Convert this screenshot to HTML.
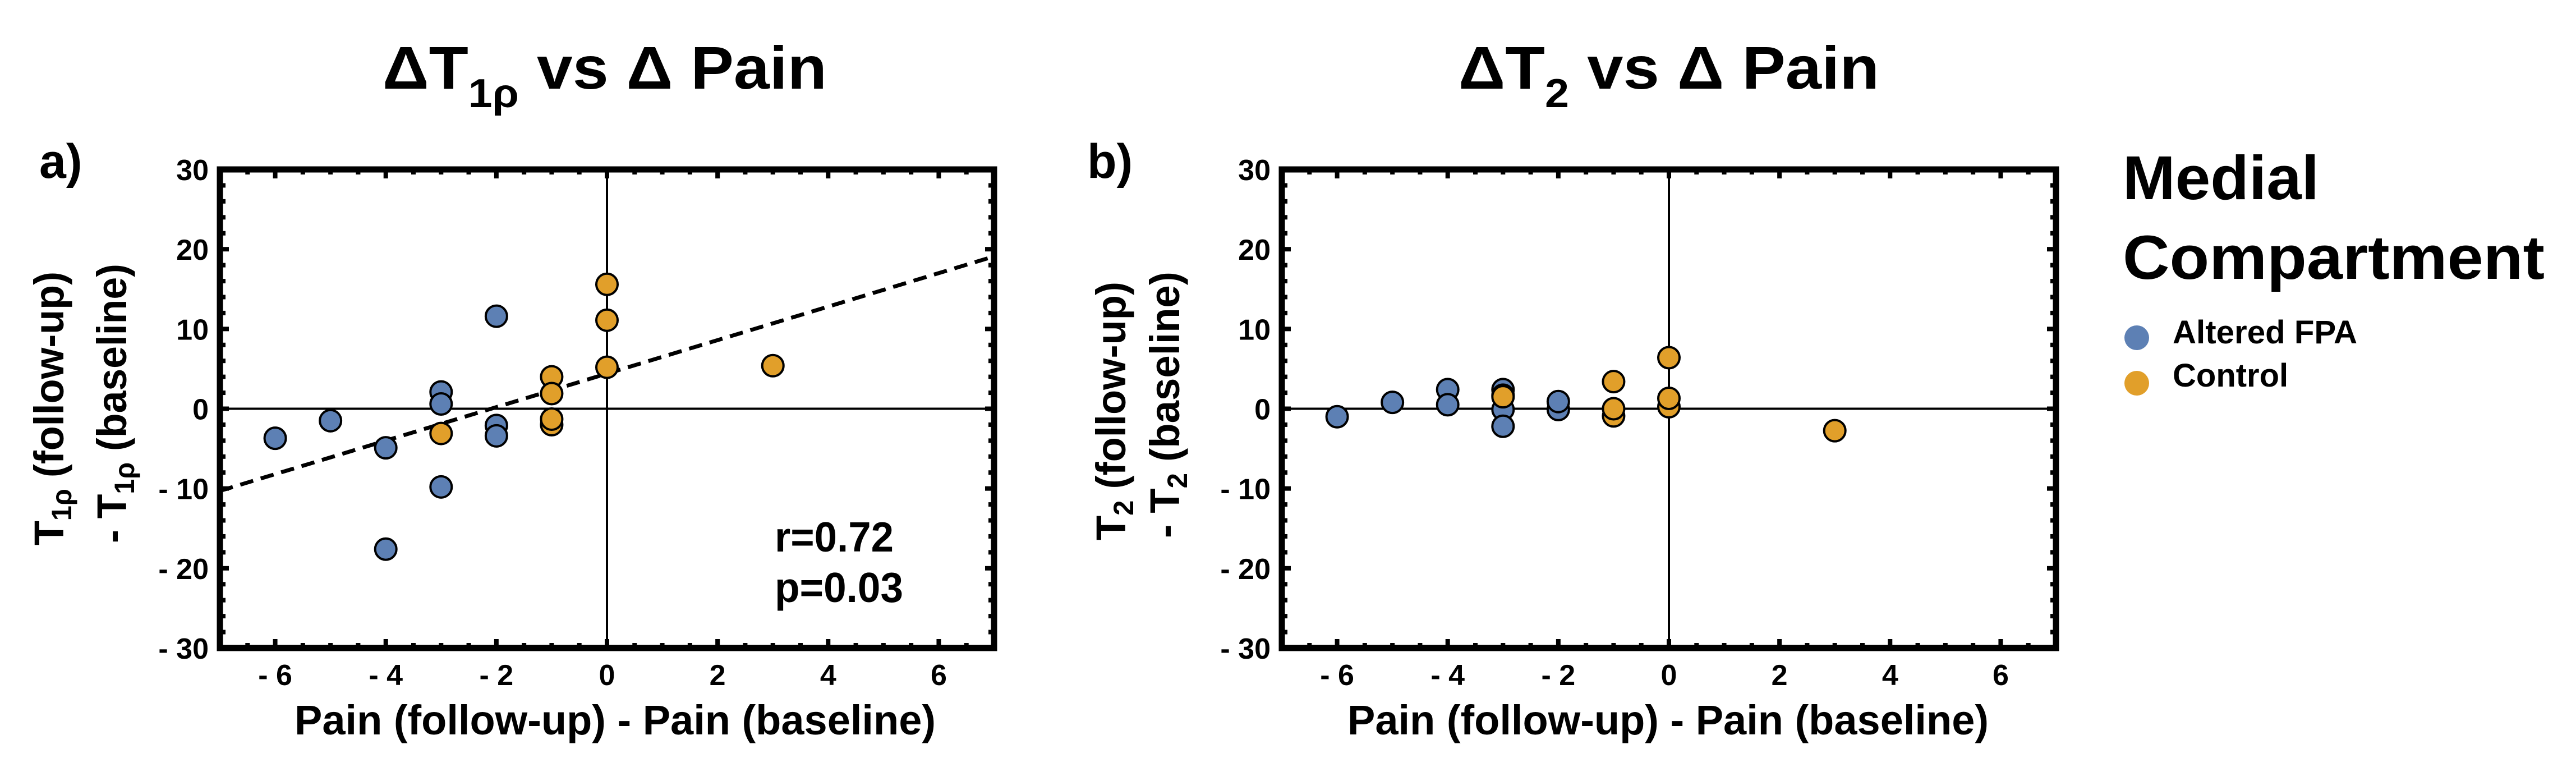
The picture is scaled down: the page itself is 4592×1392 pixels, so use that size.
<!DOCTYPE html>
<html><head><meta charset="utf-8"><style>
html,body{margin:0;padding:0;background:#fff;}
svg{display:block;}
text{font-family:"Liberation Sans",Arial,sans-serif;font-weight:bold;fill:#000;}
</style></head><body>
<svg id="chart" width="4592" height="1392" viewBox="0 0 4592 1392" xmlns="http://www.w3.org/2000/svg">
<rect width="4592" height="1392" fill="#fff"/>
<g id="panelA"></g>
<g id="panelB"></g>

<text x="682" y="158" font-size="108" textLength="792" lengthAdjust="spacingAndGlyphs">ΔT<tspan font-size="72" dy="33">1ρ</tspan><tspan dy="-33"> vs Δ Pain</tspan></text>
<text x="2600" y="158" font-size="108" textLength="750" lengthAdjust="spacingAndGlyphs">ΔT<tspan font-size="72" dy="33">2</tspan><tspan dy="-33"> vs Δ Pain</tspan></text>
<text x="70" y="317" font-size="86">a)</text>
<text x="1938" y="317" font-size="86">b)</text>

<text transform="translate(113,972) rotate(-90)" font-size="74" textLength="488" lengthAdjust="spacingAndGlyphs">T<tspan font-size="50" dy="14">1ρ</tspan><tspan dy="-14"> (follow-up)</tspan></text>
<text transform="translate(225,968) rotate(-90)" font-size="74" textLength="498" lengthAdjust="spacingAndGlyphs">- T<tspan font-size="50" dy="14">1ρ</tspan><tspan dy="-14"> (baseline)</tspan></text>
<text transform="translate(2006,963) rotate(-90)" font-size="74" textLength="461" lengthAdjust="spacingAndGlyphs">T<tspan font-size="50" dy="14">2</tspan><tspan dy="-14"> (follow-up)</tspan></text>
<text transform="translate(2102,959) rotate(-90)" font-size="74" textLength="475" lengthAdjust="spacingAndGlyphs">- T<tspan font-size="50" dy="14">2</tspan><tspan dy="-14"> (baseline)</tspan></text>

<text x="525" y="1309" font-size="74" textLength="1143" lengthAdjust="spacingAndGlyphs">Pain (follow-up) - Pain (baseline)</text>
<text x="2402" y="1309" font-size="74" textLength="1143" lengthAdjust="spacingAndGlyphs">Pain (follow-up) - Pain (baseline)</text>

<text x="1381" y="983" font-size="75" textLength="212" lengthAdjust="spacingAndGlyphs">r=0.72</text>
<text x="1381" y="1073" font-size="75" textLength="229" lengthAdjust="spacingAndGlyphs">p=0.03</text>

<g>
<text x="3784" y="355" font-size="110" textLength="350" lengthAdjust="spacingAndGlyphs">Medial</text>
<text x="3784" y="497" font-size="110" textLength="752" lengthAdjust="spacingAndGlyphs">Compartment</text>
<circle cx="3809" cy="602" r="22" fill="#5d80b4"/>
<text x="3873" y="612" font-size="58" textLength="329" lengthAdjust="spacingAndGlyphs">Altered FPA</text>
<circle cx="3809" cy="683" r="22" fill="#e19f2a"/>
<text x="3873" y="689" font-size="58">Control</text>
</g>
</svg>
<script>
// Panel a data
const aBlueX = [-6, -5, -4, -4, -3, -3, -3, -2, -2, -2];
const aBlueY = [-3.7, -1.5, -4.9, -17.6, 2.1, 0.6, -9.8, 11.6, -2.1, -3.4];
const aOrangeX = [-3, -1, -1, -1, -1, 0, 0, 0, 3];
const aOrangeY = [-3.1, 4.0, 1.9, -2.0, -1.3, 15.6, 11.1, 5.2, 5.4];
// Panel b data
const bBlueX = [-6, -5, -4, -4, -3, -3, -3, -3, -2, -2];
const bBlueY = [-1.0, 0.8, 2.4, 0.5, 2.4, 1.7, -0.1, -2.2, -0.1, 0.9];
const bOrangeX = [-3, -1, -1, -1, 0, 0, 0, 3];
const bOrangeY = [1.5, 3.4, -0.9, 0.0, 0.25, 1.3, 6.4, -2.75];
// Regression line (panel a): intercept and slope
const fitIntercept = 4.4;
const fitSlope = 2.1;
const xTicks = [-6, -4, -2, 0, 2, 4, 6];
const xTickLabels = ['- 6', '- 4', '- 2', '0', '2', '4', '6'];
const yTicks = [30, 20, 10, 0, -10, -20, -30];
const yTickLabels = ['30', '20', '10', '0', '- 10', '- 20', '- 30'];
const xDomain = [-7, 7];
const yDomain = [-30, 30];

const NS = 'http://www.w3.org/2000/svg';
function mk(parent, tag, attrs) {
  const e = document.createElementNS(NS, tag);
  for (const k in attrs) e.setAttribute(k, attrs[k]);
  parent.appendChild(e);
  return e;
}
function panel(g, L, R, T, B, blueX, blueY, orX, orY, fit, panelId) {
  const sx = v => L + (v - xDomain[0]) / (xDomain[1] - xDomain[0]) * (R - L);
  const sy = v => B - (v - yDomain[0]) / (yDomain[1] - yDomain[0]) * (B - T);
  // zero axes
  let el = mk(g, 'line', {x1: L, x2: R, y1: sy(0), y2: sy(0), stroke: '#000', 'stroke-width': 4});
  
  
  el = mk(g, 'line', {x1: sx(0), x2: sx(0), y1: T, y2: B, stroke: '#000', 'stroke-width': 4});
  
  
  // minor/major ticks
  for (let v = -6.5; v <= 6.5; v += 0.5) {
    const major = Math.abs(v % 2) < 1e-9;
    const len = major ? 16 : 9;
    const x = sx(v);
    for (const [y0, d] of [[T, 1], [B, -1]]) {
      el = mk(g, 'line', {x1: x, x2: x, y1: y0, y2: y0 + d * len, stroke: '#000', 'stroke-width': 8});
      
      
    }
  }
  for (let v = -28; v <= 28; v += 2) {
    const major = v % 10 === 0;
    const len = major ? 16 : 10;
    const y = sy(v);
    for (const [x0, d] of [[L, 1], [R, -1]]) {
      el = mk(g, 'line', {x1: x0, x2: x0 + d * len, y1: y, y2: y, stroke: '#000', 'stroke-width': 8});
      
      
    }
  }
  // frame
  el = mk(g, 'rect', {x: L, y: T, width: R - L, height: B - T, fill: 'none', stroke: '#000', 'stroke-width': 11});
  
  
  // tick labels
  xTicks.forEach((v, i) => {
    const t = mk(g, 'text', {x: sx(v), y: B + 66, 'font-size': 52, 'text-anchor': 'middle'});
    t.textContent = xTickLabels[i];
    
    
  });
  yTicks.forEach((v, i) => {
    const t = mk(g, 'text', {x: L - 20, y: sy(v) + 19, 'font-size': 52, 'text-anchor': 'end'});
    t.textContent = yTickLabels[i];
    
    
  });
  // fit line
  if (fit) {
    el = mk(g, 'line', {x1: sx(xDomain[0]), y1: sy(fitIntercept + fitSlope * xDomain[0]), x2: sx(xDomain[1]), y2: sy(fitIntercept + fitSlope * xDomain[1]), stroke: '#000', 'stroke-width': 7, 'stroke-dasharray': '24 14'});
    
    
  }
  // points
  blueX.forEach((x, i) => {
    const c = mk(g, 'circle', {cx: sx(x), cy: sy(blueY[i]), r: 19, fill: '#5d80b4', stroke: '#000', 'stroke-width': 4});
    
    
  });
  orX.forEach((x, i) => {
    const c = mk(g, 'circle', {cx: sx(x), cy: sy(orY[i]), r: 19, fill: '#e19f2a', stroke: '#000', 'stroke-width': 4});
    
    
  });
}
panel(document.getElementById('panelA'), 392, 1772, 302, 1155, aBlueX, aBlueY, aOrangeX, aOrangeY, true);
panel(document.getElementById('panelB'), 2285, 3665, 302, 1155, bBlueX, bBlueY, bOrangeX, bOrangeY, false);
</script>
</body></html>
